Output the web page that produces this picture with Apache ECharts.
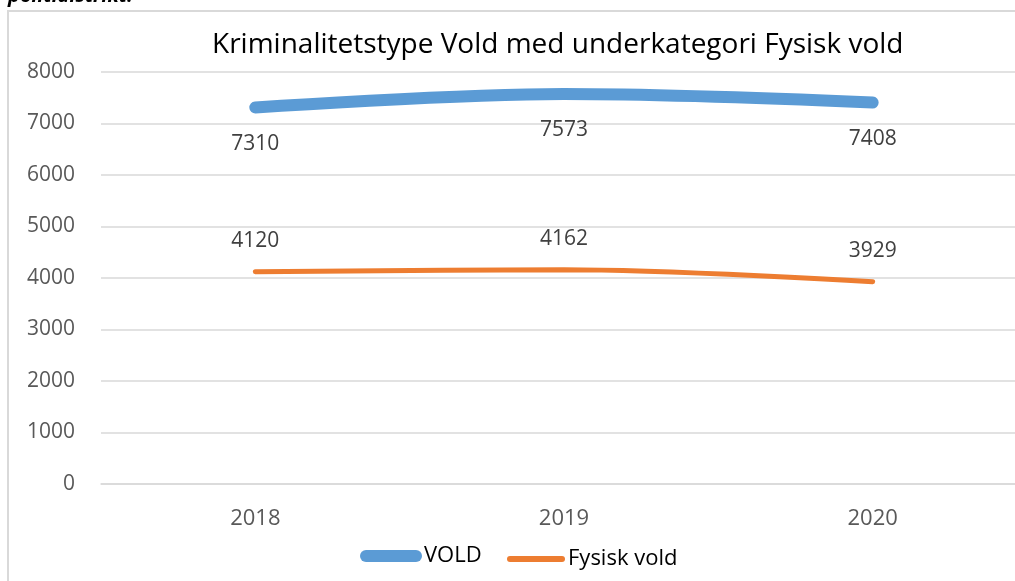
<!DOCTYPE html>
<html>
<head>
<meta charset="utf-8">
<script src="https://cdn.jsdelivr.net/npm/echarts@6/dist/echarts.min.js"></script>
<style>
  html, body { margin: 0; padding: 0; background: #fff; }
  #chart { width: 1015px; height: 581px; }
</style>
</head>
<body>
<div id="chart"></div>
<script>
  // data
  const years = ['2018', '2019', '2020']
  const vold = [7310, 7573, 7408]
  const fysiskVold = [4120, 4162, 3929]
  const yTicks = [0, 1000, 2000, 3000, 4000, 5000, 6000, 7000, 8000]

  const font = '"Open Sans", "Noto Sans", sans-serif'
  const capsuleThick = 'path://M6,0 L56,0 A6,6 0 0 1 56,12 L6,12 A6,6 0 0 1 6,0 Z'
  const capsuleThin = 'path://M3,0 L55,0 A3,3 0 0 1 55,6 L3,6 A3,3 0 0 1 3,0 Z'

  const chart = echarts.init(document.getElementById('chart'))

  const option = {
    backgroundColor: '#fff',
    animation: false,
    title: {
      text: 'Kriminalitetstype Vold med underkategori Fysisk vold',
      left: 207,
      top: 26,
      textStyle: { fontFamily: font, fontSize: 28, fontWeight: 'normal', color: '#000' }
    },
    // ramme + avskåret tekst øverst
    graphic: [
      {
        type: 'rect',
        shape: { x: 8, y: 11, width: 1200, height: 800 },
        style: { fill: null, stroke: '#d9d9d9', lineWidth: 2 },
        z: -1
      },
      {
        type: 'text',
        left: 8,
        top: -14,
        style: {
          text: 'politidistrikt.',
          font: 'italic bold 20px ' + font,
          fill: '#000'
        }
      }
    ],
    legend: [
      {
        data: [{ name: 'VOLD', icon: capsuleThick }],
        left: 355,
        top: 540,
        itemWidth: 62,
        itemHeight: 12,
        itemGap: 0,
        textStyle: { fontFamily: font, fontSize: 22, color: '#000', padding: [0, 0, 0, -3] }
      },
      {
        data: [{ name: 'Fysisk vold', icon: capsuleThin }],
        left: 502,
        top: 543,
        itemWidth: 58,
        itemHeight: 6,
        textStyle: { fontFamily: font, fontSize: 22, color: '#000', padding: [0, 0, 0, -2] }
      }
    ],
    grid: {
      left: 101,
      width: 926,
      top: 72,
      bottom: 97,
      outerBoundsMode: 'none',
      containLabel: false
    },
    xAxis: {
      type: 'category',
      data: years,
      boundaryGap: true,
      axisLine: { lineStyle: { color: '#d9d9d9', width: 1.5 } },
      axisTick: { show: false },
      axisLabel: { fontFamily: font, fontSize: 22, color: '#595959', margin: 24 }
    },
    yAxis: {
      type: 'value',
      min: yTicks[0],
      max: yTicks[yTicks.length - 1],
      interval: 1000,
      axisLine: { show: false },
      axisTick: { show: false },
      axisLabel: {
        fontFamily: font,
        fontSize: 21,
        color: '#595959',
        margin: 26,
        formatter: (v) => String(v)
      },
      splitLine: { lineStyle: { color: '#d9d9d9', width: 1.5 } }
    },
    series: [
      {
        name: 'VOLD',
        type: 'line',
        data: vold,
        smooth: 0.35,
        showSymbol: true,
        symbol: 'circle',
        symbolSize: 0,
        color: '#5b9bd5',
        lineStyle: { width: 12, color: '#5b9bd5', cap: 'round' },
        label: {
          show: true,
          position: 'bottom',
          distance: 26,
          fontFamily: font,
          fontSize: 21,
          color: '#404040'
        }
      },
      {
        name: 'Fysisk vold',
        type: 'line',
        data: fysiskVold,
        smooth: 0.35,
        showSymbol: true,
        symbol: 'circle',
        symbolSize: 0,
        color: '#ed7d31',
        lineStyle: { width: 5, color: '#ed7d31', cap: 'round' },
        label: {
          show: true,
          position: 'top',
          distance: 20,
          fontFamily: font,
          fontSize: 21,
          color: '#404040'
        }
      }
    ]
  }

  chart.setOption(option)
</script>
</body>
</html>
